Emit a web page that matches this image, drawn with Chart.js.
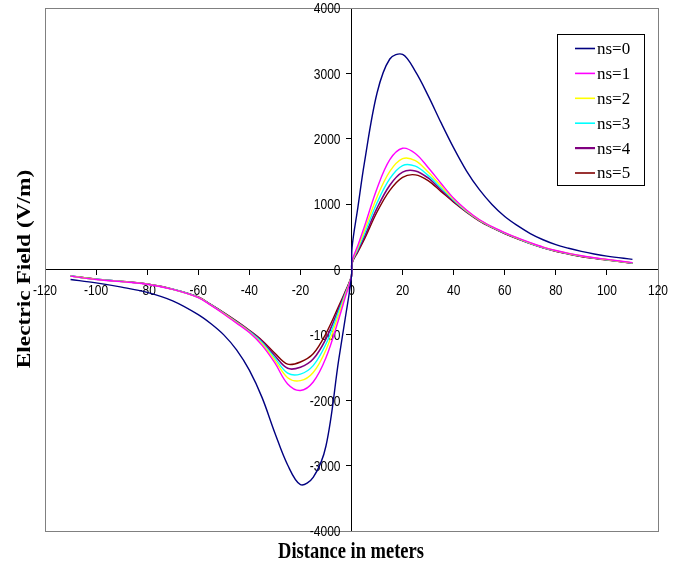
<!DOCTYPE html>
<html>
<head>
<meta charset="utf-8">
<script src="https://cdn.jsdelivr.net/npm/chart.js@4/dist/chart.umd.min.js"></script>
<style>
  html, body { margin: 0; padding: 0; background: #fff; }
  #wrap { width: 680px; height: 565px; position: relative; }
</style>
</head>
<body>
<div id="wrap"><canvas id="myChart"></canvas></div>
<script>
let labels = ['ns=0', 'ns=1', 'ns=2', 'ns=3', 'ns=4', 'ns=5'];
let colorHex = ['#000080', '#FF00FF', '#FFFF00', '#00FFFF', '#800080', '#800000'];
let lineWidths = [1.4, 1.4, 1.4, 1.4, 1.6, 1.4];

// distance (m), left and right of the source
let xNeg = [-110, -100, -90, -80, -70, -60, -55, -50, -45, -40, -35, -30, -25, -20, -15, -10, -5, -2.5, 0];
let xPos = [0.2, 2.5, 5, 10, 15, 20, 25, 30, 35, 40, 45, 50, 55, 60, 65, 70, 75, 80, 85, 90, 95, 100, 110];

// electric field (V/m)
let ns0Neg = [-152, -205, -270, -350, -480, -690, -830, -1000, -1230, -1540, -1960, -2500, -2990, -3290, -3180, -2700, -1380, -760, -95];
let ns1Neg = [-102, -152, -185, -225, -305, -430, -550, -680, -820, -965, -1160, -1430, -1750, -1850, -1720, -1350, -760, -430, -100];
let ns2Neg = [-101, -151, -184, -224, -303, -427, -545, -675, -812, -955, -1140, -1390, -1655, -1700, -1575, -1230, -690, -400, -100];
let ns3Neg = [-100, -150, -183, -223, -302, -425, -542, -670, -805, -947, -1120, -1355, -1585, -1600, -1470, -1140, -640, -380, -100];
let ns4Neg = [-99, -149, -182, -222, -301, -422, -540, -665, -797, -938, -1100, -1320, -1512, -1495, -1370, -1060, -600, -360, -100];
let ns5Neg = [-98, -148, -182, -222, -300, -420, -538, -660, -790, -930, -1085, -1280, -1448, -1415, -1290, -980, -560, -340, -100];

let ns0Pos = [330, 950, 1620, 2700, 3220, 3290, 3030, 2660, 2250, 1860, 1510, 1225, 995, 810, 670, 550, 455, 380, 325, 278, 238, 205, 155];
let ns1Pos = [120, 370, 650, 1240, 1680, 1855, 1775, 1560, 1320, 1090, 910, 765, 655, 565, 483, 410, 343, 290, 247, 210, 180, 155, 105];
let ns2Pos = [112, 340, 590, 1110, 1500, 1695, 1665, 1490, 1280, 1075, 900, 760, 652, 560, 480, 405, 340, 287, 245, 207, 178, 152, 102];
let ns3Pos = [106, 315, 540, 1020, 1390, 1590, 1580, 1440, 1250, 1060, 892, 755, 648, 556, 477, 402, 337, 284, 242, 204, 176, 150, 100];
let ns4Pos = [100, 290, 495, 940, 1290, 1490, 1508, 1400, 1220, 1045, 885, 750, 644, 552, 473, 398, 334, 281, 239, 201, 173, 148, 98];
let ns5Pos = [95, 270, 460, 880, 1210, 1410, 1448, 1360, 1195, 1030, 878, 745, 640, 548, 470, 395, 331, 278, 236, 198, 170, 145, 95];

let negSeries = [ns0Neg, ns1Neg, ns2Neg, ns3Neg, ns4Neg, ns5Neg];
let posSeries = [ns0Pos, ns1Pos, ns2Pos, ns3Pos, ns4Pos, ns5Pos];

let datasets = labels.map((lab, i) => {
  let pts = xNeg.map((x, j) => ({x: x, y: negSeries[i][j]}))
    .concat(xPos.map((x, j) => ({x: x, y: posSeries[i][j]})));
  return {
    label: lab,
    data: pts,
    borderColor: colorHex[i],
    backgroundColor: colorHex[i],
    borderWidth: lineWidths[i],
    pointRadius: 0,
    fill: false,
    tension: 0.35
  };
});

// text in the original is drawn a bit taller than wide
function tallText(ctx, text, x, y, align, sy) {
  ctx.save();
  ctx.translate(x, y);
  ctx.scale(1, sy);
  ctx.textAlign = align;
  ctx.textBaseline = 'alphabetic';
  ctx.fillText(text, 0, 0);
  ctx.restore();
}

let decor = {
  id: 'decor',
  beforeDatasetsDraw(chart) {
    let ctx = chart.ctx;
    let a = chart.chartArea;
    let xs = chart.scales.x, ys = chart.scales.y;
    let x0 = xs.getPixelForValue(0), y0 = ys.getPixelForValue(0);

    ctx.save();
    ctx.strokeStyle = '#808080';
    ctx.lineWidth = 1;
    ctx.strokeRect(Math.round(a.left) + 0.5, Math.round(a.top) + 0.5,
      Math.round(a.right - a.left), Math.round(a.bottom - a.top));

    ctx.fillStyle = '#000';
    ctx.font = '12px "Liberation Sans", Arial, sans-serif';
    xs.ticks.forEach(t => {
      tallText(ctx, String(t.value), xs.getPixelForValue(t.value), y0 + 25, 'center', 1.25);
    });
    ys.ticks.forEach(t => {
      tallText(ctx, String(t.value), x0 - 11, ys.getPixelForValue(t.value) + 5.3, 'right', 1.25);
    });
    ctx.restore();
  },
  afterDraw(chart) {
    let ctx = chart.ctx;
    ctx.save();
    ctx.fillStyle = '#000';

    // axis titles
    ctx.font = 'bold 18.5px "Liberation Serif", "Times New Roman", serif';
    tallText(ctx, 'Distance in meters', 351, 557.5, 'center', 1.23);

    ctx.save();
    ctx.translate(29.5, 269);
    ctx.rotate(-Math.PI / 2);
    ctx.scale(1.23, 1);
    ctx.font = 'bold 19px "Liberation Serif", "Times New Roman", serif';
    ctx.textAlign = 'center';
    ctx.textBaseline = 'alphabetic';
    ctx.fillText('Electric Field (V/m)', 0, 0);
    ctx.restore();

    // legend
    ctx.fillStyle = '#fff';
    ctx.fillRect(557.5, 34.5, 87, 151);
    ctx.strokeStyle = '#000';
    ctx.lineWidth = 1;
    ctx.strokeRect(557.5, 34.5, 87, 151);
    ctx.font = '17px "Liberation Serif", "Times New Roman", serif';
    ctx.textAlign = 'left';
    ctx.textBaseline = 'middle';
    labels.forEach((lab, i) => {
      let y = 48.5 + i * 24.9;
      ctx.strokeStyle = colorHex[i];
      ctx.lineWidth = i === 4 ? 2.2 : 1.6;
      ctx.beginPath();
      ctx.moveTo(575, y);
      ctx.lineTo(595, y);
      ctx.stroke();
      ctx.fillStyle = '#000';
      ctx.fillText(lab, 597, y + 1);
    });
    ctx.restore();
  }
};

let ctx = document.getElementById('myChart').getContext('2d');
let myChart = new Chart(ctx, {
  type: 'line',
  data: { datasets: datasets },
  options: {
    responsive: true,
    maintainAspectRatio: false,
    animation: false,
    layout: { padding: { left: 45, right: 22, top: 8, bottom: 34 } },
    plugins: {
      legend: { display: false },
      tooltip: { enabled: false }
    },
    scales: {
      x: {
        type: 'linear',
        position: { y: 0 },
        min: -120,
        max: 120,
        ticks: { stepSize: 20, display: false },
        grid: { drawOnChartArea: false, drawTicks: true, tickLength: 5, color: '#000' },
        border: { display: true, color: '#000', width: 1 }
      },
      y: {
        type: 'linear',
        position: { x: 0 },
        min: -4000,
        max: 4000,
        ticks: { stepSize: 1000, display: false },
        grid: { drawOnChartArea: false, drawTicks: true, tickLength: 5, color: '#000' },
        border: { display: true, color: '#000', width: 1 }
      }
    }
  },
  plugins: [decor]
});
</script>
</body>
</html>
